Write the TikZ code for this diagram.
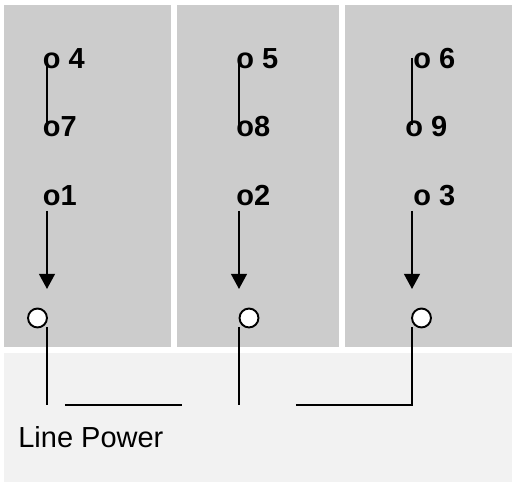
\documentclass[tikz,border=0pt]{standalone}
\usepackage{fontspec}
\setmainfont{Liberation Sans}
\usetikzlibrary{arrows.meta,positioning}
\definecolor{panelgrey}{HTML}{CCCCCC}
\definecolor{basegrey}{HTML}{F2F2F2}
\tikzset{
        pinlabel/.style={anchor=base west, inner sep=0pt, font=\fontsize{16.5pt}{18pt}\selectfont\bfseries},
        wire/.style={line width=1.1pt, line cap=butt},
        feed/.style={wire, -{Triangle[length=8.6pt, width=9pt]}, shorten >=0pt},
        terminal/.style={circle, draw, fill=white, line width=1.1pt, inner sep=0pt, minimum size=19*0.5669pt},
    }
\begin{document}
\begin{tikzpicture}[x = 0.02cm, y = -0.02cm]
                \useasboundingbox[fill=white] (0,0) rectangle (512,482);
                \foreach \xa/\xb in {4/171,177/339,345/512}
                {
                    \path[fill=panelgrey] (\xa,5) rectangle (\xb,347);
                }
                \path[fill=basegrey] (4,353) rectangle (512,482);
                % contact labels
                \node[pinlabel] (pinA) at (42.5,68.5) {o 4};
                \node[pinlabel] (pinB) at (42.5,136.5) {o7};
                \node[pinlabel] (pinC) at (42.5,205.5) {o1};
                \node[pinlabel] (pinD) at (236,68.5) {o 5};
                \node[pinlabel] (pinE) at (236,136.5) {o8};
                \node[pinlabel] (pinF) at (236,205.5) {o2};
                \node[pinlabel] (pinG) at (413,68.5) {o 6};
                \node[pinlabel] (pinH) at (405,136.5) {o 9};
                \node[pinlabel] (pinI) at (413,205.5) {o 3};
                \node[anchor=base west, inner sep=0pt, font=\fontsize{16.5pt}{18pt}\selectfont] (power) at (18,447.5) {Line Power};
                % line terminals
                \node[terminal] (termA) at (37.5,318) {};
                \node[terminal] (termB) at (249,318) {};
                \node[terminal] (termC) at (421.5,318) {};
                \foreach \n/\x in {A/47,B/239,C/412}
                {
                    \coordinate (bridgeTop\n) at (\x,58);
                    \coordinate (bridgeEnd\n) at (\x,125);
                    \coordinate (feedTop\n) at (\x,211);
                    \coordinate (feedEnd\n) at (\x,289);
                    \coordinate (riseTop\n) at (\x,327);
                    \coordinate (riseEnd\n) at (\x,405);
                    \draw[wire] (bridgeTop\n) -- (bridgeEnd\n);
                    \draw[feed] (feedTop\n) -- (feedEnd\n);
                }
                \coordinate (busA) at (65,405);
                \coordinate (busB) at (182,405);
                \coordinate (busC) at (296,405);
                \draw[wire] (riseTopA) -- (riseEndA);
                \draw[wire] (riseTopB) -- (riseEndB);
                \draw[wire] (busA) -- (busB);
                \draw[wire] (busC) -- (riseEndC) -- (riseTopC);
            \end{tikzpicture}
\end{document}
